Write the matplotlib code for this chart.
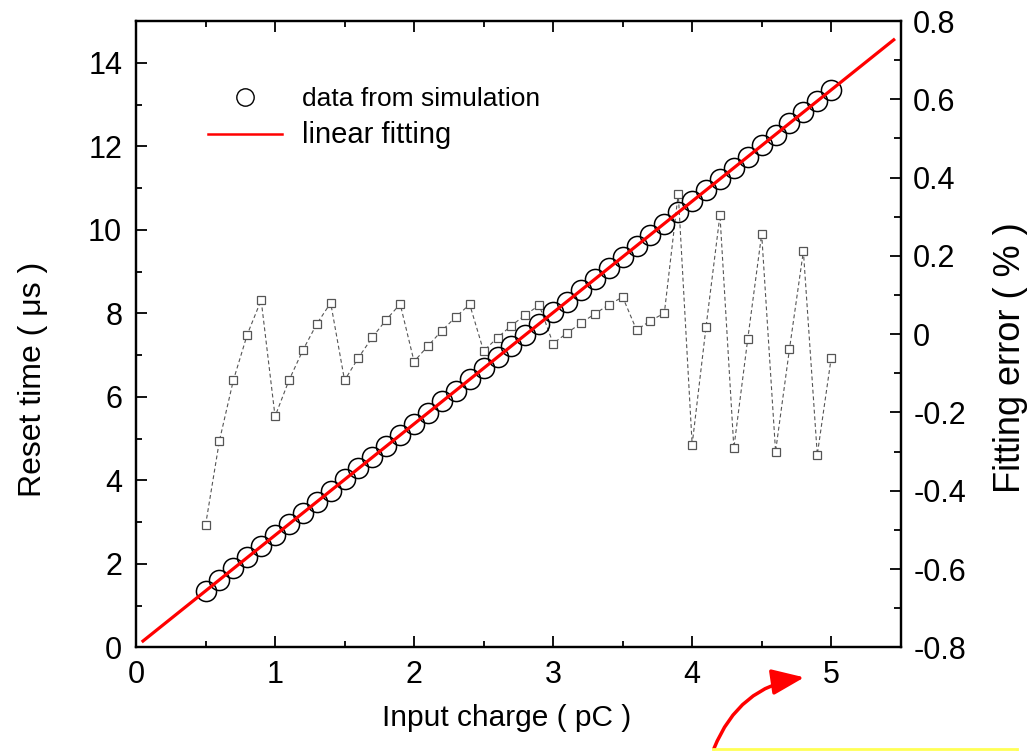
import numpy as np
import matplotlib
matplotlib.use("Agg")
import matplotlib.pyplot as plt
from matplotlib.lines import Line2D
from matplotlib.patches import FancyArrowPatch, Rectangle
from matplotlib.ticker import MultipleLocator

plt.rcParams["font.family"] = ["Liberation Sans", "DejaVu Sans"]

# input charge (pC)
charge = [0.5, 0.6, 0.7, 0.8, 0.9, 1.0, 1.1, 1.2, 1.3, 1.4,
          1.5, 1.6, 1.7, 1.8, 1.9, 2.0, 2.1, 2.2, 2.3, 2.4,
          2.5, 2.6, 2.7, 2.8, 2.9, 3.0, 3.1, 3.2, 3.3, 3.4,
          3.5, 3.6, 3.7, 3.8, 3.9, 4.0, 4.1, 4.2, 4.3, 4.4,
          4.5, 4.6, 4.7, 4.8, 4.9, 5.0]

# reset time from simulation (us)
reset_time = [1.36, 1.62, 1.89, 2.16, 2.42, 2.69, 2.95, 3.22, 3.49, 3.75,
              4.02, 4.29, 4.55, 4.82, 5.09, 5.35, 5.62, 5.89, 6.15, 6.42,
              6.69, 6.95, 7.22, 7.49, 7.75, 8.02, 8.28, 8.55, 8.82, 9.08,
              9.35, 9.62, 9.88, 10.15, 10.42, 10.68, 10.95, 11.22, 11.48, 11.75,
              12.02, 12.28, 12.55, 12.81, 13.08, 13.35]

# fitting error (%)
fit_error = [-0.488, -0.272, -0.118, -0.001, 0.087, -0.210, -0.118, -0.041, 0.026, 0.080,
             -0.118, -0.060, -0.008, 0.037, 0.077, -0.070, -0.030, 0.009, 0.044, 0.076,
             -0.043, -0.009, 0.022, 0.049, 0.074, -0.024, 0.003, 0.028, 0.052, 0.075,
             0.095, 0.011, 0.034, 0.054, 0.359, -0.282, 0.019, 0.304, -0.291, -0.012,
             0.256, -0.300, -0.038, 0.212, -0.308, -0.061]

# linear fitting line end points
fit_x = [0.05, 5.45]
fit_y = [0.15, 14.55]

fig = plt.figure(figsize=(10.36, 7.51), dpi=100)
ax = fig.add_axes([0.1313, 0.1381, 0.7381, 0.8339])
ax2 = ax.twinx()

ax2.plot(charge, fit_error, linestyle=(0, (3.5, 2.5)), color="#555555", lw=0.8,
         marker="s", markersize=6.2, markerfacecolor="white",
         markeredgecolor="#555555", markeredgewidth=0.9, zorder=1)

ax.plot(charge, reset_time, linestyle="none", marker="o", markersize=14.5,
        markerfacecolor="none", markeredgecolor="black", markeredgewidth=1.1, zorder=3)
ax.plot(fit_x, fit_y, color="red", lw=2.3, zorder=4)
ax.set_zorder(ax2.get_zorder() + 1)
ax.patch.set_visible(False)

ax.set_xlim(0, 5.5)
ax.set_ylim(0, 15)
ax2.set_ylim(-0.8, 0.8)

ax.xaxis.set_major_locator(MultipleLocator(1))
ax.xaxis.set_minor_locator(MultipleLocator(0.5))
ax.yaxis.set_major_locator(MultipleLocator(2))
ax.yaxis.set_minor_locator(MultipleLocator(1))
ax2.yaxis.set_major_locator(MultipleLocator(0.2))
ax2.yaxis.set_minor_locator(MultipleLocator(0.1))
ax2.yaxis.set_major_formatter(plt.FuncFormatter(lambda v, p: "0" if abs(v) < 1e-9 else f"{v:.1f}"))

ax.tick_params(which="both", direction="in", top=True, right=False, width=1.3, labelsize=22)
ax.tick_params(which="major", length=8)
ax.tick_params(which="minor", length=4.5)
ax.tick_params(axis="x", pad=9)
ax.tick_params(axis="y", pad=10)
ax2.tick_params(which="both", direction="in", width=1.3, labelsize=22, pad=9)
ax2.tick_params(which="major", length=8)
ax2.tick_params(which="minor", length=5)

for a in (ax, ax2):
    for s in a.spines.values():
        s.set_linewidth(1.6)

ax.set_xlabel("Input charge ( pC )", fontsize=21.5, va="center")
ax.set_ylabel("Reset time ( \u03bcs )", fontsize=23, va="center")
ax2.set_ylabel("Fitting error ( % )", fontsize=26, va="center")
ax.xaxis.set_label_coords(0.484, -0.113)
ax.yaxis.set_label_coords(-0.135, 0.428)
ax2.yaxis.set_label_coords(1.143, 0.463)

handles = [Line2D([], [], linestyle="none", marker="o", markersize=12.5,
                  markerfacecolor="none", markeredgecolor="black", markeredgewidth=1.0),
           Line2D([], [], color="red", lw=1.8)]
leg = ax.legend(handles, ["data from simulation", "linear fitting"],
                loc="upper left", bbox_to_anchor=(0.094, 0.894), frameon=False,
                fontsize=19, handlelength=2.8, handletextpad=0.75,
                labelspacing=0.38, borderpad=0, borderaxespad=0)
leg.get_texts()[1].set_fontsize(21)

# red curved arrow and yellow box below the chart
arrow = FancyArrowPatch((713 / 1036, 0.0), (807 / 1036, 1 - 677 / 751),
                        transform=fig.transFigure, connectionstyle="arc3,rad=-0.3",
                        arrowstyle="-|>,head_length=0.55,head_width=0.22",
                        mutation_scale=36, color="red", lw=2.5)
fig.patches.append(arrow)
fig.patches.append(Rectangle((713 / 1036, -0.05), 304 / 1036, 0.052,
                             transform=fig.transFigure, facecolor="none",
                             edgecolor="#ffff55", lw=2))

fig.savefig("out.png", dpi=100)
